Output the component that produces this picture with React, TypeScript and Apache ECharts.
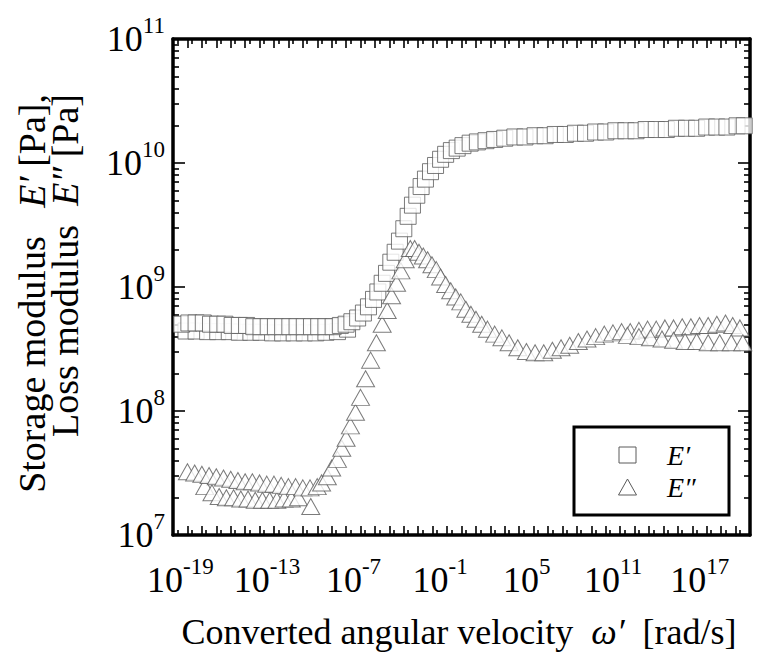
import React, { useEffect, useRef } from 'react';
import * as echarts from 'echarts';

const FONT = 'Liberation Serif';

// axis extents in decades
const xDecades = [-20, 20];
const yDecades = [7, 11];
const xLabelExponents = [-19, -13, -7, -1, 5, 11, 17];
const yLabelExponents = [7, 8, 9, 10, 11];
const legendNames = ['E′', 'E″'];

// [log10 ω', log10 E']
const storageLower: [number, number][] = [
  [-19.1, 8.645], [-18.4, 8.645], [-17.6, 8.64], [-16.9, 8.64], [-16.1, 8.64], [-15.4, 8.635],
  [-14.6, 8.635], [-13.9, 8.635], [-13.1, 8.63], [-12.4, 8.63], [-11.6, 8.63], [-10.9, 8.63],
  [-10.1, 8.63], [-9.4, 8.635], [-8.6, 8.64], [-7.9, 8.66],
];
const storageUpper: [number, number][] = [
  [-19.4, 8.70], [-18.9, 8.71], [-18.4, 8.71], [-17.9, 8.71], [-17.4, 8.70], [-16.9, 8.70],
  [-16.4, 8.70], [-15.9, 8.69], [-15.4, 8.69], [-14.9, 8.69], [-14.4, 8.68], [-13.9, 8.68],
  [-13.4, 8.68], [-12.9, 8.68], [-12.4, 8.68], [-11.9, 8.68], [-11.4, 8.68], [-10.9, 8.68],
  [-10.4, 8.68], [-9.9, 8.68], [-9.4, 8.68], [-8.9, 8.68], [-8.4, 8.69], [-8.0, 8.70],
  [-7.6, 8.72], [-7.2, 8.75], [-6.8, 8.79], [-6.45, 8.84], [-6.1, 8.90], [-5.8, 8.96],
  [-5.5, 9.03], [-5.2, 9.11], [-4.9, 9.20], [-4.6, 9.28], [-4.3, 9.37], [-4.0, 9.47],
  [-3.7, 9.57], [-3.4, 9.66], [-3.1, 9.74], [-2.8, 9.81], [-2.5, 9.87], [-2.15, 9.93],
  [-1.8, 9.98], [-1.45, 10.03], [-1.1, 10.07], [-0.7, 10.10], [-0.3, 10.12], [0.1, 10.14],
  [0.6, 10.16], [1.1, 10.17], [1.7, 10.18], [2.3, 10.19], [3.0, 10.20], [3.7, 10.21],
  [4.4, 10.21], [5.1, 10.22], [5.8, 10.22], [6.5, 10.23], [7.2, 10.23], [7.9, 10.24],
  [8.6, 10.24], [9.3, 10.25], [10.0, 10.25], [10.7, 10.26], [11.4, 10.26], [12.1, 10.26],
  [12.8, 10.27], [13.5, 10.27], [14.2, 10.27], [14.9, 10.28], [15.6, 10.28], [16.3, 10.28],
  [17.0, 10.29], [17.7, 10.29], [18.4, 10.29], [19.1, 10.30], [19.6, 10.30],
];

// [log10 ω', log10 E'']
const lossLowerLeft: [number, number][] = [
  [-17.8, 7.39], [-17.3, 7.34], [-16.8, 7.31], [-16.3, 7.30], [-15.8, 7.30], [-15.3, 7.29],
  [-14.8, 7.29], [-14.3, 7.28], [-13.8, 7.28], [-13.3, 7.28], [-12.8, 7.28], [-12.3, 7.29],
  [-11.8, 7.29], [-11.3, 7.30], [-10.45, 7.23],
];
const lossMain: [number, number][] = [
  [-19.0, 7.51], [-18.5, 7.50], [-18.0, 7.49], [-17.5, 7.48], [-17.0, 7.47], [-16.5, 7.46],
  [-16.0, 7.45], [-15.5, 7.44], [-15.0, 7.43], [-14.5, 7.43], [-14.0, 7.42], [-13.5, 7.41],
  [-13.0, 7.41], [-12.5, 7.40], [-12.0, 7.39], [-11.5, 7.39], [-11.0, 7.38], [-10.5, 7.38],
  [-10.0, 7.39], [-9.7, 7.42], [-9.3, 7.47], [-9.0, 7.54], [-8.6, 7.61], [-8.3, 7.70],
  [-8.0, 7.78], [-7.7, 7.88], [-7.35, 7.99], [-7.0, 8.11], [-6.65, 8.26], [-6.3, 8.41],
  [-5.9, 8.55], [-5.5, 8.70], [-5.15, 8.81], [-4.85, 8.93], [-4.5, 9.03], [-4.2, 9.13],
  [-3.9, 9.22], [-3.55, 9.31], [-3.25, 9.31], [-2.95, 9.28], [-2.65, 9.25], [-2.35, 9.22],
  [-2.05, 9.18], [-1.75, 9.14], [-1.45, 9.08], [-1.1, 9.02], [-0.75, 8.97], [-0.4, 8.92],
  [-0.05, 8.88], [0.3, 8.82], [0.65, 8.78], [1.0, 8.74], [1.4, 8.70], [1.8, 8.66],
  [2.3, 8.62], [2.8, 8.59], [3.3, 8.55], [3.9, 8.51], [4.5, 8.48], [5.1, 8.47],
  [5.7, 8.47], [6.3, 8.49], [6.9, 8.51], [7.5, 8.53], [8.1, 8.56], [8.7, 8.58],
  [9.3, 8.60], [9.9, 8.62], [10.5, 8.63], [11.1, 8.64], [11.7, 8.64], [12.3, 8.65],
  [12.9, 8.66], [13.5, 8.66], [14.1, 8.67], [14.7, 8.67], [15.3, 8.68], [15.9, 8.68],
  [16.5, 8.69], [17.1, 8.69], [17.7, 8.70], [18.3, 8.71], [18.8, 8.69], [19.3, 8.67],
];
const lossLowerRight: [number, number][] = [
  [11.5, 8.61], [12.3, 8.60], [13.1, 8.59], [13.9, 8.58], [14.7, 8.57], [15.5, 8.56],
  [16.3, 8.56], [17.1, 8.55], [17.9, 8.55], [18.7, 8.55], [19.5, 8.55],
];

const p10 = (e: number) => Math.pow(10, e);
const toData = (pts: [number, number][]) => pts.map(([x, y]) => [p10(x), p10(y)]);

function range(a: number, b: number) {
  const r: number[] = [];
  for (let i = a; i <= b; i++) r.push(i);
  return r;
}

const ctx = typeof document !== 'undefined' ? document.createElement('canvas').getContext('2d') : null;
function measure(text: string, size: number, italic = false) {
  if (!ctx) return text.length * size * 0.5;
  ctx.font = `${italic ? 'italic ' : ''}${size}px ${FONT}`;
  return ctx.measureText(text).width;
}

const txt = (x: number, y: number, text: string, size: number, align: string, italic = false) => ({
  type: 'text',
  x,
  y,
  silent: true,
  style: {
    text,
    fontFamily: FONT,
    fontSize: size,
    fontStyle: italic ? 'italic' : 'normal',
    fill: '#000',
    align,
    verticalAlign: 'middle',
  },
});

export default function App() {
  const ref = useRef<HTMLDivElement>(null);
  useEffect(() => {
    const chart = echarts.init(ref.current!, null, { renderer: 'svg' });
    const xMajor = range(xDecades[0], xDecades[1]).map(p10);
    const xMinor = range(xDecades[0], xDecades[1] - 1).map((e) => 2 * p10(e));
    const yMajor = range(yDecades[0], yDecades[1]).map(p10);
    const yMinor: number[] = [];
    range(yDecades[0], yDecades[1] - 1).forEach((e) => {
      for (let k = 2; k <= 9; k++) yMinor.push(k * p10(e));
    });

    const lineStyle = { color: '#000', width: 3.5 };
    const tickStyle = { color: '#000', width: 1.6 };

    const mkX = (position: string, ticks: number[], len: number, line: boolean) => ({
      type: 'log',
      logBase: 10,
      position,
      min: p10(xDecades[0]),
      max: p10(xDecades[1]),
      splitLine: { show: false },
      axisLine: { show: line, onZero: false, lineStyle },
      axisTick: { show: true, inside: true, length: len, customValues: ticks, lineStyle: tickStyle },
      axisLabel: { show: false },
    });
    const mkY = (position: string, ticks: number[], len: number, line: boolean) => ({
      type: 'log',
      logBase: 10,
      position,
      min: p10(yDecades[0]),
      max: p10(yDecades[1]),
      splitLine: { show: false },
      axisLine: { show: line, onZero: false, lineStyle },
      axisTick: { show: true, inside: true, length: len, customValues: ticks, lineStyle: tickStyle },
      axisLabel: { show: false },
    });

    const squareStyle = { color: '#fff', borderColor: '#5a5a5a', borderWidth: 1 };
    const triStyle = { color: '#fff', borderColor: '#5a5a5a', borderWidth: 1 };

    chart.setOption({
      animation: false,
      backgroundColor: '#fff',
      grid: { left: 173, right: 8, top: 39, bottom: 122 },
      xAxis: [
        mkX('bottom', xMajor, 9, true),
        mkX('bottom', xMinor, 5, false),
        mkX('top', xMajor, 9, true),
        mkX('top', xMinor, 5, false),
      ],
      yAxis: [
        mkY('left', yMajor, 12, true),
        mkY('left', yMinor, 6, false),
        mkY('right', yMajor, 12, true),
        mkY('right', yMinor, 6, false),
      ],
      series: [
        {
          name: legendNames[0],
          type: 'scatter',
          symbol: 'rect',
          symbolSize: 16,
          itemStyle: squareStyle,
          data: toData([...storageLower, ...storageUpper]),
        },
        {
          name: legendNames[1],
          type: 'scatter',
          symbol: 'triangle',
          symbolSize: [18, 16],
          itemStyle: triStyle,
          data: toData([...lossLowerLeft, ...lossMain, ...lossLowerRight]),
        },
      ],
    } as any);

    const g: any[] = [];
    const BIG = 36;
    const SUP = 23;

    // x tick labels: 10^n
    xLabelExponents.forEach((e) => {
      const px = chart.convertToPixel({ xAxisIndex: 0 }, p10(e)) as number;
      const w10 = measure('10', BIG);
      const wExp = measure(String(e), SUP);
      const left = px - 7 - (w10 + wExp) / 2;
      g.push(txt(left, 580, '10', BIG, 'left'));
      g.push(txt(left + w10, 566, String(e), SUP, 'left'));
    });
    // y tick labels
    yLabelExponents.forEach((e) => {
      const py = chart.convertToPixel({ yAxisIndex: 0 }, p10(e)) as number;
      const wExp = measure(String(e), SUP);
      const right = 165;
      g.push(txt(right - wExp, py, '10', BIG, 'right'));
      g.push(txt(right, py - 14, String(e), SUP, 'left' === 'left' ? 'right' : 'right'));
    });

    // x axis title
    {
      const T = 36;
      const a = 'Converted angular velocity';
      const b = 'ω′';
      const c = '[rad/s]';
      const gap = measure('  ', T);
      const wa = measure(a, T);
      const wb = measure(b, T, true);
      const wc = measure(c, T);
      const total = wa + gap + wb + gap + wc;
      const x0 = 459 - total / 2;
      g.push(txt(x0, 632, a, T, 'left'));
      g.push(txt(x0 + wa + gap, 632, b, T, 'left', true));
      g.push(txt(x0 + wa + gap + wb + gap, 632, c, T, 'left'));
    }

    // y axis title, two rotated lines ending at y = 94
    const yTitle = (cx: number, first: string, sym: string, last: string, gapText: string) => {
      const T = 38;
      const wl = measure(last, T);
      const ws = measure(' ', T);
      const we = measure(sym, T, true);
      const gap = measure(gapText, T);
      return {
        type: 'group',
        x: cx,
        y: 94,
        rotation: Math.PI / 2,
        children: [
          txt(0, 0, last, T, 'right'),
          txt(-(wl + ws), 0, sym, T, 'right', true),
          txt(-(wl + ws + we + gap), 0, first, T, 'right'),
        ],
      };
    };
    g.push(yTitle(32, 'Storage modulus', 'E′', '[Pa],', '   '));
    g.push(yTitle(65, 'Loss modulus', 'E″', '[Pa]', '  '));

    // legend box
    g.push({
      type: 'rect',
      silent: true,
      shape: { x: 574, y: 427, width: 155, height: 88 },
      style: { fill: 'none', stroke: '#000', lineWidth: 3 },
    });
    g.push({
      type: 'rect',
      silent: true,
      shape: { x: 619, y: 447, width: 17, height: 16 },
      style: { fill: '#fff', stroke: '#5a5a5a', lineWidth: 1 },
    });
    g.push({
      type: 'polygon',
      silent: true,
      shape: { points: [[627.5, 479], [636.5, 495], [618.5, 495]] },
      style: { fill: '#fff', stroke: '#5a5a5a', lineWidth: 1 },
    });
    g.push(txt(667, 455, legendNames[0], 28, 'left', true));
    g.push(txt(667, 487, legendNames[1], 28, 'left', true));

    chart.setOption({ graphic: g } as any);
    return () => chart.dispose();
  }, []);
  return <div ref={ref} style={{ position: 'absolute', left: 0, top: 0, width: 758, height: 657 }} />;
}
